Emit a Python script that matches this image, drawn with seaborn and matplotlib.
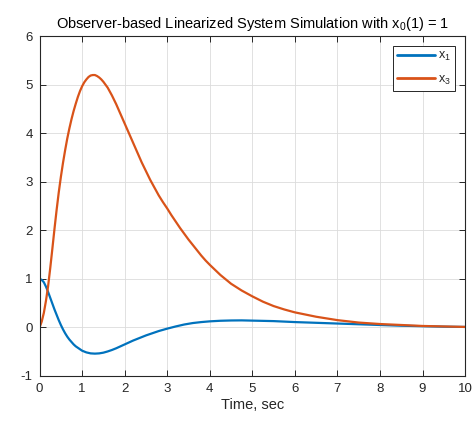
import numpy as np
import pandas as pd
import seaborn as sns
import matplotlib
matplotlib.use("Agg")
import matplotlib.pyplot as plt

# Simulated state trajectories (time in seconds)
t_x1 = [0.0, 0.05, 0.1, 0.15, 0.2, 0.25, 0.3, 0.35, 0.4, 0.45, 0.5, 0.55, 0.6,
        0.65, 0.7, 0.75, 0.8, 0.85, 0.9, 0.95, 1.0, 1.1, 1.2, 1.3, 1.4, 1.5,
        1.6, 1.7, 1.8, 1.9, 2.0, 2.1, 2.2, 2.3, 2.4, 2.5, 2.6, 2.7, 2.8, 2.9,
        3.0, 3.2, 3.4, 3.6, 3.8, 4.0, 4.25, 4.5, 4.75, 5.0, 5.5, 6.0, 6.5,
        7.0, 7.5, 8.0, 8.5, 9.0, 9.5, 10.0]
x1 = [1.0, 0.98, 0.93, 0.84, 0.73, 0.61, 0.49, 0.37, 0.26, 0.15, 0.05, -0.04,
      -0.12, -0.19, -0.25, -0.30, -0.35, -0.39, -0.42, -0.45, -0.48, -0.515,
      -0.535, -0.54, -0.535, -0.52, -0.495, -0.465, -0.43, -0.39, -0.35,
      -0.31, -0.27, -0.235, -0.20, -0.165, -0.135, -0.105, -0.075, -0.05,
      -0.025, 0.02, 0.06, 0.09, 0.11, 0.125, 0.137, 0.143, 0.145, 0.14, 0.13,
      0.11, 0.095, 0.08, 0.065, 0.05, 0.035, 0.025, 0.015, 0.01]

t_x3 = [0.0, 0.05, 0.1, 0.15, 0.2, 0.25, 0.3, 0.35, 0.4, 0.45, 0.5, 0.55, 0.6,
        0.65, 0.7, 0.75, 0.8, 0.85, 0.9, 0.95, 1.0, 1.05, 1.1, 1.15, 1.2,
        1.25, 1.3, 1.35, 1.4, 1.45, 1.5, 1.6, 1.7, 1.8, 1.9, 2.0, 2.1, 2.2,
        2.3, 2.4, 2.5, 2.6, 2.7, 2.8, 2.9, 3.0, 3.1, 3.2, 3.3, 3.4, 3.5, 3.6,
        3.7, 3.8, 3.9, 4.0, 4.25, 4.5, 4.75, 5.0, 5.25, 5.5, 5.75, 6.0, 6.5,
        7.0, 7.5, 8.0, 8.5, 9.0, 9.5, 10.0]
x3 = [0.0, 0.12, 0.30, 0.55, 0.85, 1.22, 1.62, 2.03, 2.42, 2.78, 3.10, 3.39,
      3.65, 3.89, 4.10, 4.29, 4.46, 4.61, 4.75, 4.87, 4.97, 5.05, 5.11, 5.16,
      5.19, 5.20, 5.20, 5.18, 5.15, 5.11, 5.06, 4.94, 4.78, 4.60, 4.40, 4.20,
      4.00, 3.80, 3.60, 3.40, 3.22, 3.04, 2.88, 2.72, 2.58, 2.45, 2.31, 2.18,
      2.05, 1.93, 1.81, 1.70, 1.59, 1.48, 1.38, 1.29, 1.08, 0.90, 0.76, 0.64,
      0.53, 0.44, 0.37, 0.31, 0.22, 0.15, 0.10, 0.07, 0.05, 0.03, 0.02, 0.01]

series_names = ["x$_1$", "x$_3$"]
series_colors = ["#0072BD", "#D95319"]
x_ticks = list(range(0, 11))
y_ticks = list(range(-1, 7))

df = pd.concat([
    pd.DataFrame({"t": t_x1, "value": x1, "state": series_names[0]}),
    pd.DataFrame({"t": t_x3, "value": x3, "state": series_names[1]}),
], ignore_index=True)

sns.set_theme(style="white")
plt.rcParams["font.family"] = ["Liberation Sans", "DejaVu Sans"]
plt.rcParams["mathtext.fontset"] = "custom"
plt.rcParams["mathtext.rm"] = "Liberation Sans"
plt.rcParams["mathtext.it"] = "Liberation Sans"
plt.rcParams["mathtext.default"] = "rm"
plt.rcParams["axes.unicode_minus"] = False

fig = plt.figure(figsize=(4.77, 4.21), dpi=100)
ax = fig.add_axes([0.083, 0.107, 0.892, 0.807])

sns.lineplot(data=df, x="t", y="value", hue="state",
             palette=dict(zip(series_names, series_colors)),
             linewidth=1.6, ax=ax, sort=False)
for line in ax.get_lines():
    line.set_solid_joinstyle("round")
    line.set_solid_capstyle("round")

ax.set_xlim(0, 10)
ax.set_ylim(-1, 6)
ax.set_xticks(x_ticks)
ax.set_yticks(y_ticks)
ax.grid(True, color="#dcdcdc", linewidth=0.6)
ax.set_axisbelow(True)

for sp in ax.spines.values():
    sp.set_color("#262626")
    sp.set_linewidth(0.8)

ax.tick_params(axis="both", direction="in", length=4, width=0.7,
               colors="#262626", labelsize=9.5, top=True, right=True,
               bottom=True, left=True, pad=5)
ax.tick_params(axis="both", labelcolor="#262626")

ax.set_xlabel("Time, sec", fontsize=10.5, color="#262626", labelpad=2)
ax.set_ylabel("")
ax.set_title("Observer-based Linearized System Simulation with x$_0$(1) = 1",
             fontsize=10.5, color="#000000", pad=6)

leg = ax.legend(loc="upper right", fontsize=9, frameon=True, fancybox=False,
                framealpha=1, edgecolor="#262626", handlelength=3.1,
                borderpad=0.3, labelspacing=0.85, handletextpad=0.25,
                borderaxespad=0.8)
leg.get_frame().set_linewidth(0.7)
for line in leg.get_lines():
    line.set_linewidth(2.0)

fig.savefig("out.png", dpi=100)
